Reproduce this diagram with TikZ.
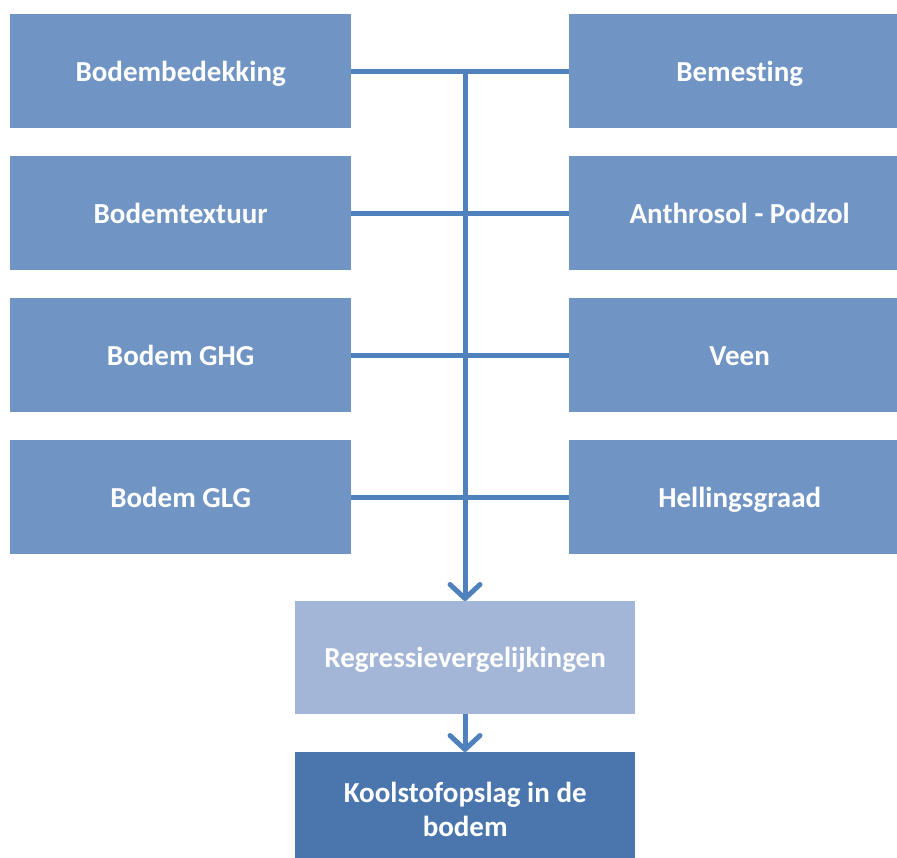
\documentclass[tikz,border=0pt]{standalone}
\usepackage{fontspec}
\setmainfont{Carlito}[Ligatures=NoCommon]
\usetikzlibrary{arrows.meta}
\definecolor{factorblue}{HTML}{7094C4}
\definecolor{modelblue}{HTML}{A3B6D7}
\definecolor{resultblue}{HTML}{4A76AD}
\definecolor{flowblue}{HTML}{4F81BD}
\begin{document}
\begin{tikzpicture}[x=1pt,y=-1pt,
  box/.style={text=white, font=\bfseries\fontsize{29}{34}\selectfont,
    inner sep=0pt, anchor=north west, align=center},
  oneline/.style={box, text height=26pt, text depth=6pt},
  factor/.style={oneline, fill=factorblue, minimum width=341pt, minimum height=114pt},
  flow/.style={draw=flowblue, line width=5pt},
  flowarrow/.style={flow, -{Straight Barb[length=14pt,width=30pt,round]}}
]
\useasboundingbox (0,0) rectangle (897,858);
\clip (0,0) rectangle (897,858);

% input factors, left column
\node[factor] (l1) at (10,14)  {Bodembedekking};
\node[factor] (l2) at (10,156) {Bodemtextuur};
\node[factor] (l3) at (10,298) {Bodem GHG};
\node[factor] (l4) at (10,440) {Bodem GLG};

% input factors, right column (running off the right edge)
\node[factor] (r1) at (569,14)  {Bemesting};
\node[factor] (r2) at (569,156) {Anthrosol - Podzol};
\node[factor] (r3) at (569,298) {Veen};
\node[factor] (r4) at (569,440) {Hellingsgraad};

% model and result
\node[oneline, fill=modelblue, minimum width=340pt, minimum height=113pt] (reg) at (295,601) {Regressievergelijkingen};
\node[box, fill=resultblue, minimum width=340pt, minimum height=106pt] (out) at (295,752) {};
\node[box, anchor=center, yshift=-4pt] (outtext) at (out.center) {Koolstofopslag in de\\bodem};

% connectors between factor pairs
\foreach \i in {1,...,4}
  \draw[flow] (l\i.east) -- (r\i.west);

% trunk into the regression box
\coordinate (top) at (465,71);
\draw[flowarrow] (top) -- (top |- reg.north);
\draw[flowarrow] (top |- reg.south) -- (top |- out.north);
\end{tikzpicture}
\end{document}
